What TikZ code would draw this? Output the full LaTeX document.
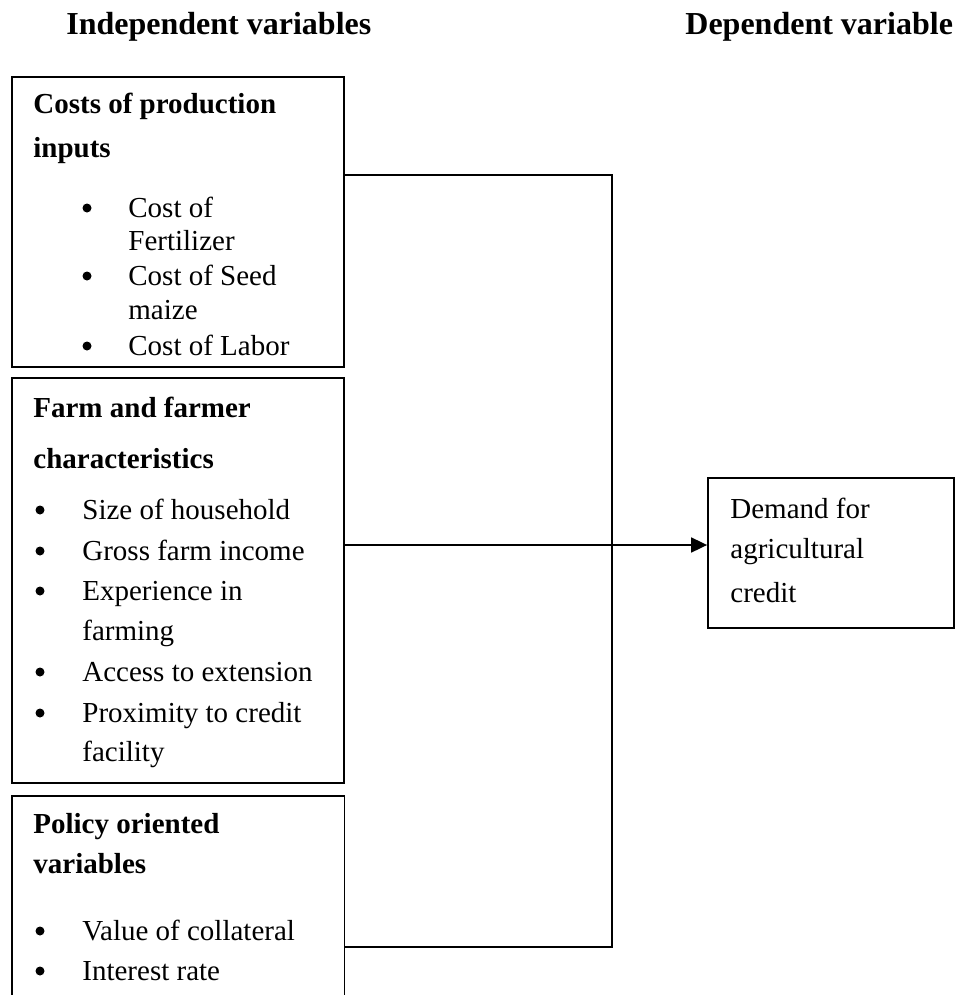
\documentclass[tikz,border=0pt]{standalone}
\usepackage{fontspec}
\setmainfont{Liberation Serif}
\usepackage{tikz}
\usetikzlibrary{positioning,arrows.meta,fit,calc}

\begin{document}
\begin{tikzpicture}[x=0.5pt, y=-0.5pt,
    every node/.style={inner sep=0pt, font=\fontsize{14.5}{17}\selectfont},
    box/.style={draw, line width=0.9pt, inner sep=0pt},
    txt/.style={anchor=base west},
    head/.style={anchor=base west, font=\fontsize{14.5}{17}\selectfont\bfseries},
    title/.style={anchor=base west, font=\fontsize{16}{19}\selectfont\bfseries},
    link/.style={line width=0.9pt},
    arrow/.style={line width=0.9pt, -{Triangle[length=8pt, width=7.5pt]}}]

\useasboundingbox (0,0) rectangle (959,995);

% Titles
\node[title] (indep) at (66,35) {Independent variables};
\node[title] (dep) at (685,35) {Dependent variable};

% Boxes
\node[box, fit={(12,77) (344,367)}] (cost) {};
\node[box, fit={(12,378) (344,783)}] (farm) {};
\node[inner sep=0pt, fit={(12,796) (344,995)}] (policy) {};
\draw[link] (policy.south west) -- (policy.north west) -- (policy.north east) -- (policy.south east);
\node[box, fit={(708,478) (954,628)}] (demand) {};

% Costs of production inputs
\node[head] at (33,113) {Costs of production};
\node[head] at (33,157) {inputs};
\foreach \y in {217,285,355} {
    \fill (87,\y-9) circle (4.5);
}
\foreach \y/\t in {217/Cost of, 250/Fertilizer, 285/Cost of Seed, 319/maize, 355/Cost of Labor} {
    \node[txt] at (128,\y) {\t};
}

% Farm and farmer characteristics
\node[head] at (33,417) {Farm and farmer};
\node[head] at (33,468) {characteristics};
\foreach \y in {519,560,600,681,722} {
    \fill (40,\y-9) circle (4.5);
}
\foreach \y/\t in {519/Size of household, 560/Gross farm income, 600/Experience in,
    640/farming, 681/Access to extension, 722/Proximity to credit, 761/facility} {
    \node[txt] at (82,\y) {\t};
}

% Policy oriented variables
\node[head] at (33,833) {Policy oriented};
\node[head] at (33,873) {variables};
\foreach \y in {940,980} {
    \fill (40,\y-9) circle (4.5);
}
\foreach \y/\t in {940/Value of collateral, 980/Interest rate} {
    \node[txt] at (82,\y) {\t};
}

% Demand for agricultural credit
\foreach \y/\t in {518/Demand for, 558/agricultural, 602/credit} {
    \node[txt] at (730,\y) {\t};
}

% Connectors
\coordinate (jtop) at (612,175);
\coordinate (jbot) at (612,947);
\coordinate (jmid) at (612,545);
\draw[link] (jtop -| cost.east) -- (jtop) -- (jbot) -- (jbot -| policy.east);
\draw[arrow] (jmid -| farm.east) -- (jmid -| demand.west);

\end{tikzpicture}
\end{document}
